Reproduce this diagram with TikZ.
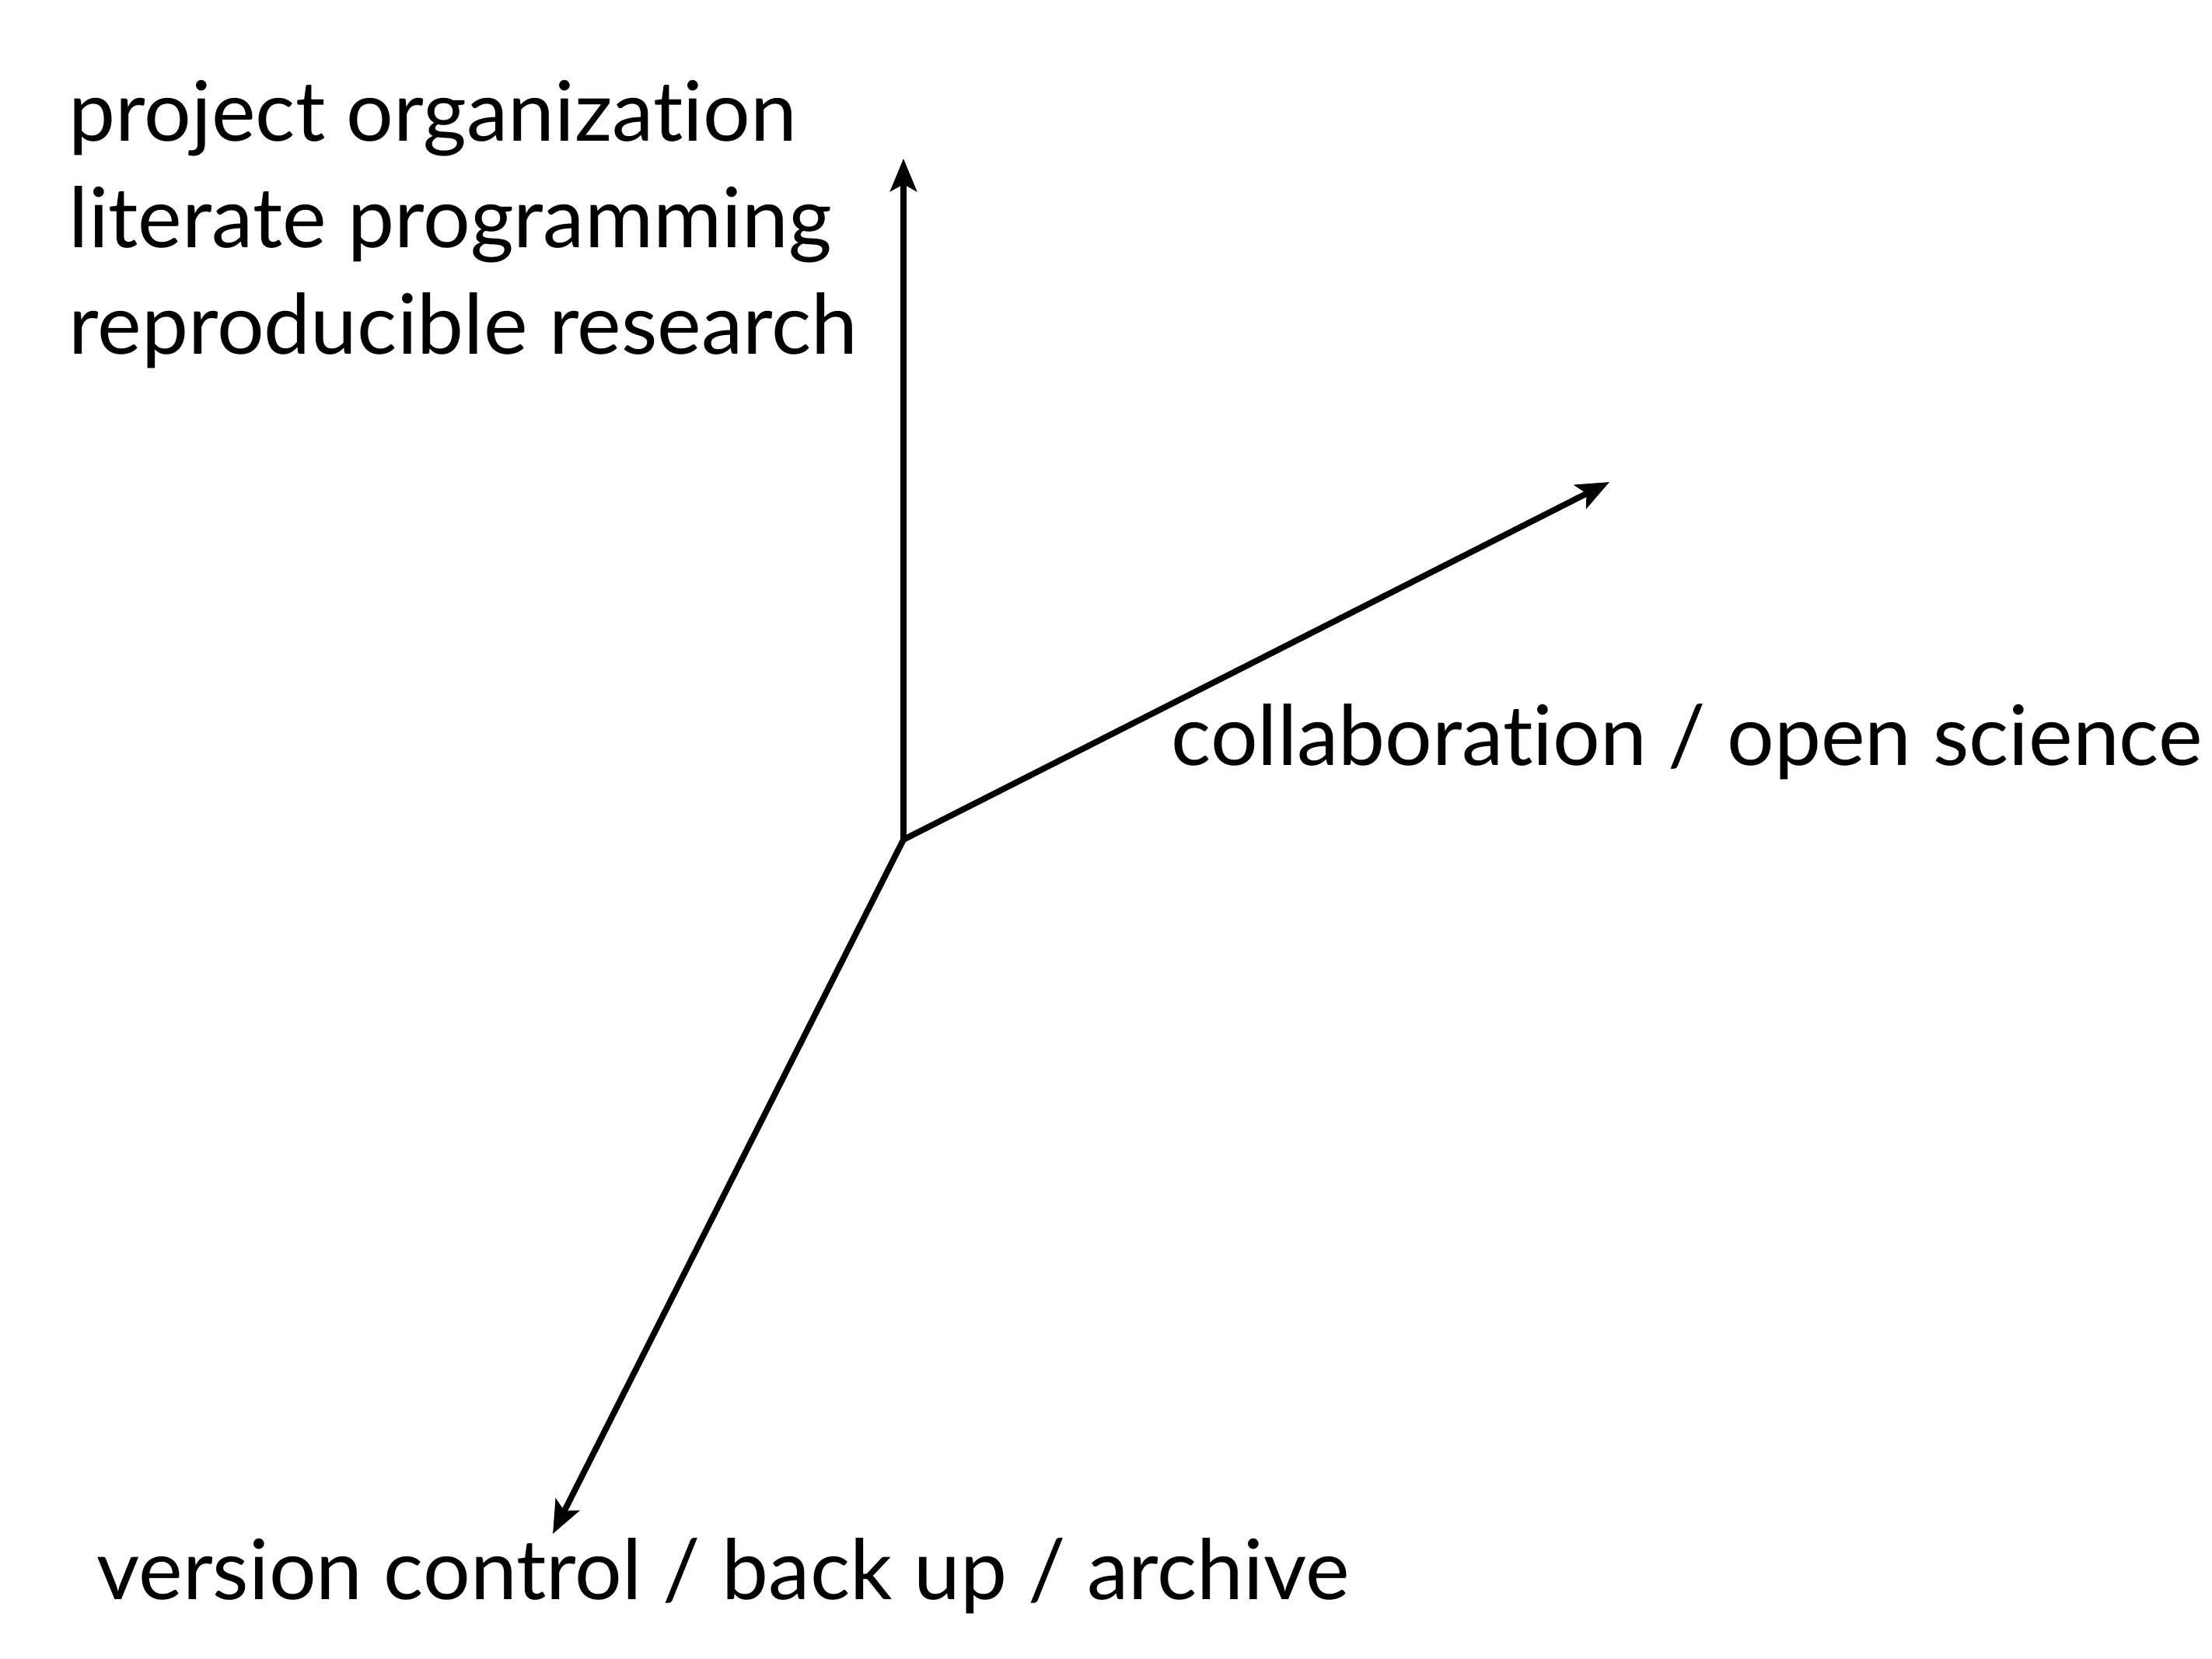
\documentclass[tikz,border=0pt]{standalone}
\usepackage{fontspec}
\setmainfont[Ligatures={NoCommon}]{Lato}
\usepackage{tikz}
\usetikzlibrary{positioning, arrows.meta}
\tikzstyle{axis} = [line width=2.2pt,-{Stealth[length=0.42cm, width=0.34cm, inset=0.09cm]}]
\tikzstyle{lbl} = [anchor=base west, inner sep=0pt, font=\fontsize{30.5}{36}\selectfont]

\begin{document}
\begin{tikzpicture}
\useasboundingbox (0,0) rectangle (28.45,-21.34);

\coordinate (origin) at (11.62,-10.80);
\coordinate (up) at (11.62,-2.04);
\coordinate (right) at (20.70,-6.20);
\coordinate (down) at (7.11,-19.73);

\draw [axis] (origin) -- (up);
\draw [axis] (origin) -- (right);
\draw [axis] (origin) -- (down);

\node (proj) [lbl] at (0.88,-1.82) {project organization};
\node (lit) [lbl] at (0.88,-3.19) {literate programming};
\node (rep) [lbl] at (0.88,-4.56) {reproducible research};

\node (collab) [lbl] at (15.06,-9.85) {collaboration / open science};
\node (vc) [lbl] at (1.24,-20.57) {version control / back up / archive};

\end{tikzpicture}
\end{document}
